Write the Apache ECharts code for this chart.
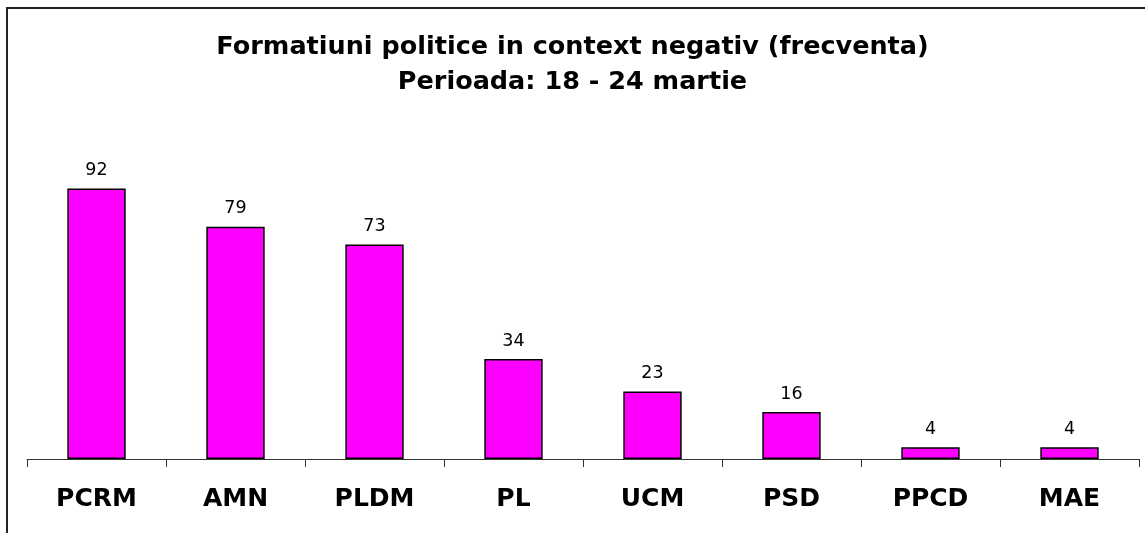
<!DOCTYPE html>
<html>
<head>
<meta charset="utf-8">
<script src="https://cdn.jsdelivr.net/npm/echarts@6/dist/echarts.min.js"></script>
<style>
  html, body { margin: 0; padding: 0; background: #fff; }
  #frame {
    position: absolute; left: 6px; top: 7px; width: 1200px; height: 600px;
    border-left: 2px solid #222; border-top: 2px solid #222;
  }
  #chart { position: absolute; left: 0; top: 0; width: 1145px; height: 533px; }
</style>
</head>
<body>
<div id="frame"></div>
<div id="chart"></div>
<script>
// 类别与数值
const categories = ['PCRM', 'AMN', 'PLDM', 'PL', 'UCM', 'PSD', 'PPCD', 'MAE']
const values = [92, 79, 73, 34, 23, 16, 4, 4]
const titleLines = ['Formatiuni politice in context negativ (frecventa)', 'Perioada: 18 - 24 martie']

const chart = echarts.init(document.getElementById('chart'))

chart.setOption({
  backgroundColor: 'transparent',
  animation: false,
  title: {
    text: titleLines.join('\n'),
    left: 'center',
    top: 25,
    textStyle: {
      fontFamily: 'DejaVu Sans',
      fontWeight: 'bold',
      fontSize: 25.5,
      lineHeight: 35,
      color: '#000'
    }
  },
  grid: {
    left: 27,
    right: 6,
    top: 165,
    bottom: 74,
    containLabel: false
  },
  xAxis: {
    type: 'category',
    data: categories,
    axisLine: { lineStyle: { color: '#333', width: 1 } },
    axisTick: { show: true, length: 8, lineStyle: { color: '#333' } },
    axisLabel: {
      margin: 28,
      color: '#000',
      fontFamily: 'DejaVu Sans',
      fontWeight: 'bold',
      fontSize: 25
    }
  },
  yAxis: {
    type: 'value',
    min: 0,
    max: 100,
    show: false,
    splitLine: { show: false }
  },
  series: [{
    type: 'bar',
    data: values,
    barWidth: '42%',
    itemStyle: {
      color: '#ff00ff',
      borderColor: '#000',
      borderWidth: 1.5
    },
    label: {
      show: true,
      position: 'top',
      distance: 9,
      color: '#000',
      fontFamily: 'DejaVu Sans',
      fontSize: 17.5
    }
  }]
})
</script>
</body>
</html>
